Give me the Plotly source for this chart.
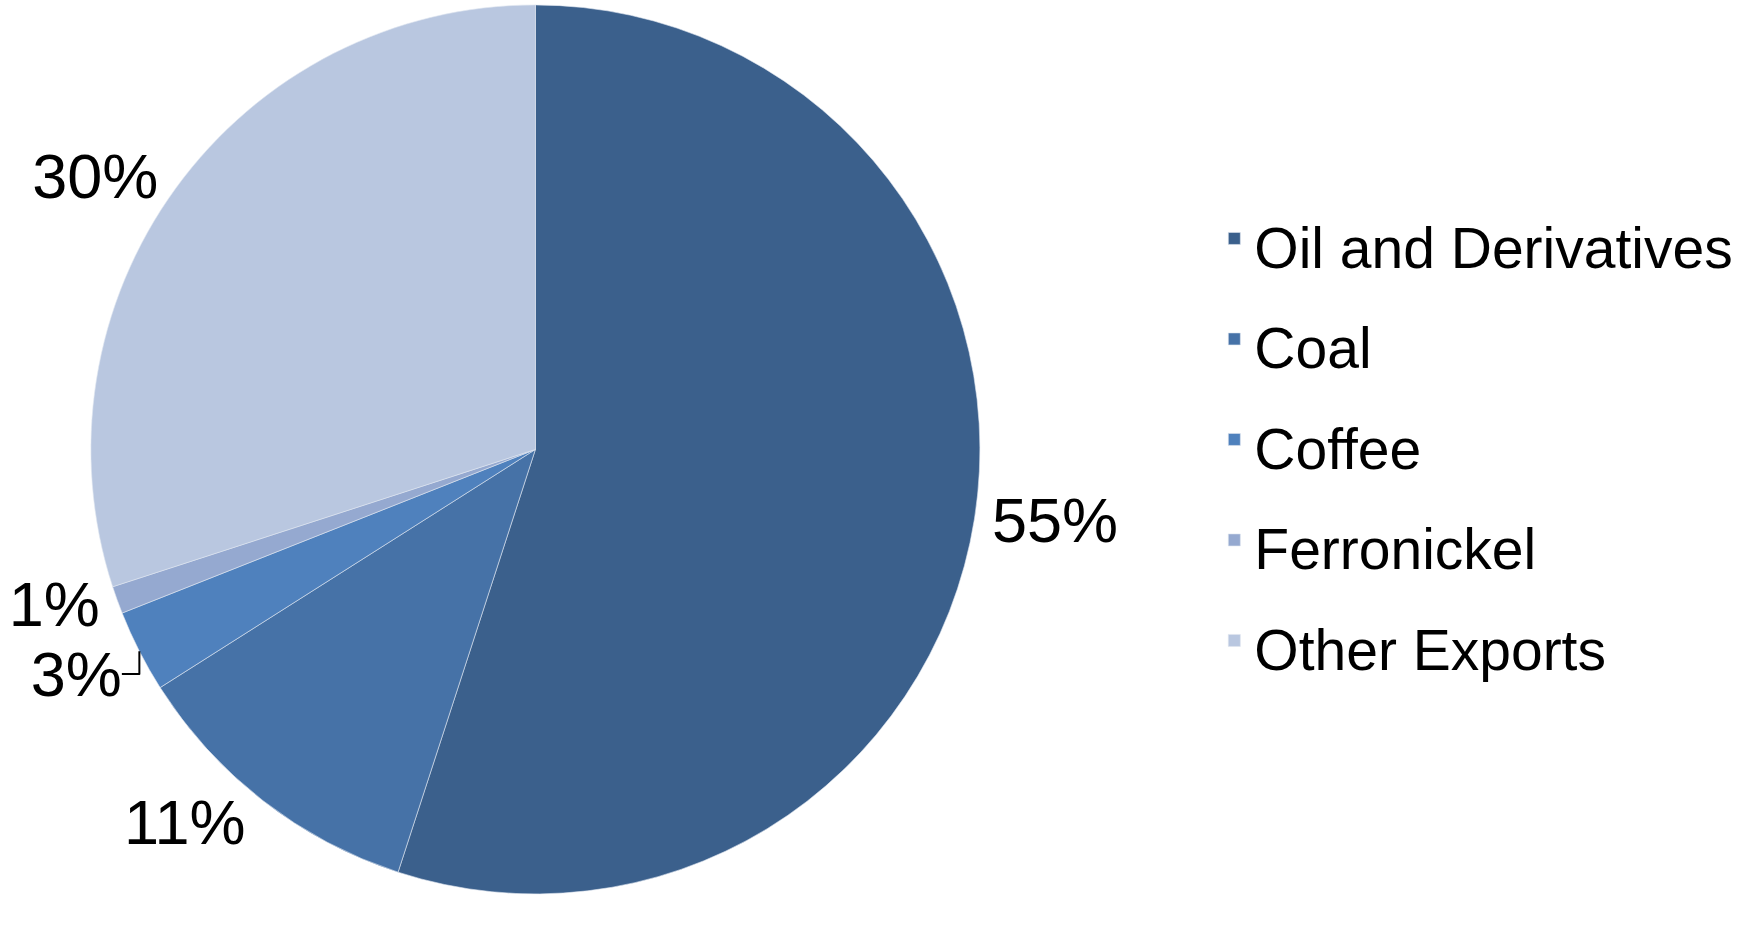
import plotly.graph_objects as go

labels = ["Oil and Derivatives", "Coal", "Coffee", "Ferronickel", "Other Exports"]
values = [55, 11, 3, 1, 30]
colors = ["#3B608C", "#4672A7", "#4F81BD", "#95A9D0", "#B9C7E0"]

FONT = "Liberation Sans Narrow, Arial Narrow, Liberation Sans, Arial, sans-serif"
LEGEND_TEXT_SIZE = 57

# legend entries rendered with a slightly smaller glyph size than the row pitch
legend_labels = [f'<span style="font-size:{LEGEND_TEXT_SIZE}px">{t}</span>' for t in labels]

fig = go.Figure(
    go.Pie(
        labels=legend_labels,
        values=values,
        sort=False,
        direction="clockwise",
        rotation=0,
        marker=dict(colors=colors, line=dict(color="#dfe6f0", width=0.6)),
        textinfo="percent",
        textposition="outside",
        texttemplate="%{percent:.0%}",
        textfont=dict(family=FONT, size=63, color="#000000"),
        domain=dict(x=[0.0443, 0.5593], y=[0.040, 0.999]),
        hoverinfo="label+percent",
    )
)

fig.update_layout(
    width=1744,
    height=931,
    margin=dict(l=0, r=0, t=0, b=0),
    paper_bgcolor="white",
    plot_bgcolor="white",
    font=dict(family=FONT, color="#000000"),
    legend=dict(
        x=0.694,
        y=0.530,
        xanchor="left",
        yanchor="middle",
        font=dict(family=FONT, size=75, color="#000000"),
        bgcolor="rgba(0,0,0,0)",
    ),
    showlegend=True,
)

fig.write_html("out.html")
